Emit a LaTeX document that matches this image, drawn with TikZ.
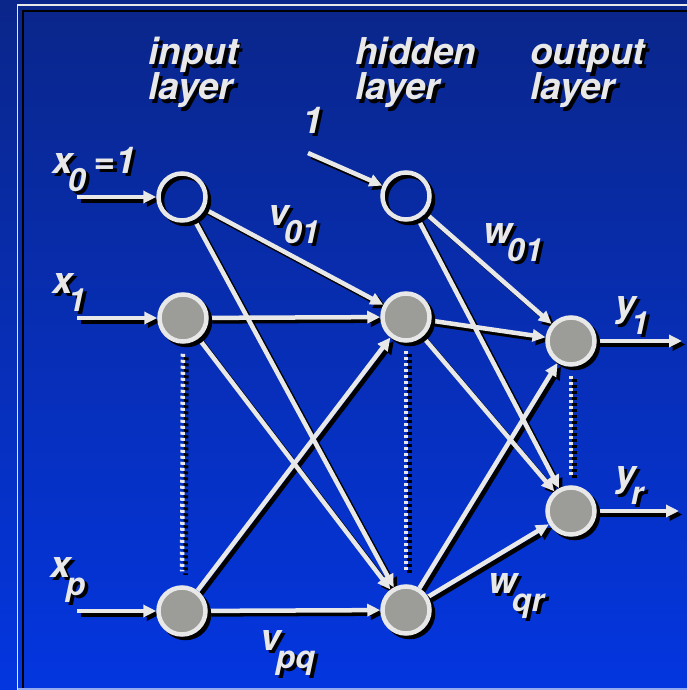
\documentclass[tikz,border=0pt]{standalone}
\usepackage{fontspec}
\setmainfont{TeX Gyre Heros}
\usetikzlibrary{arrows.meta}
\definecolor{claro}{RGB}{232,232,232}
\definecolor{gris}{RGB}{156,157,153}
\definecolor{azularriba}{RGB}{10,38,138}
\definecolor{azulabajo}{RGB}{4,54,224}
\definecolor{azulborde}{RGB}{150,170,240}
\newcommand{\sub}[1]{\kern-5pt\raisebox{-18pt}{\fontsize{32}{32}\selectfont #1}}
\pgfdeclarelayer{fondo}
\pgfdeclarelayer{lineas}
\pgfsetlayers{fondo,lineas,main}

\begin{document}
\begin{tikzpicture}[
    x=1pt,
    y=-1pt,
    neurona/.style={circle, draw=claro, fill=gris, line width=4.5pt,
        minimum size=47pt, inner sep=0pt,
        preaction={draw=black, fill=black, transform canvas={xshift=3.5pt, yshift=-3.5pt}}},
    sesgo/.style={circle, draw=claro, line width=4.5pt,
        minimum size=47pt, inner sep=0pt,
        preaction={draw=black, transform canvas={xshift=3.5pt, yshift=-3.5pt}}},
    conexion/.style={draw=claro, line width=4.5pt, -{Triangle[length=13pt, width=12pt]}},
    sombralinea/.style={conexion, draw=black, transform canvas={xshift=3.5pt, yshift=-3.5pt}},
    punteada/.style={draw=claro, line width=4.5pt, dash pattern=on 3pt off 3pt},
    sombrapunteada/.style={punteada, draw=black, transform canvas={xshift=3.5pt, yshift=-3.5pt}},
    etiqueta/.style={text=claro, inner sep=0pt, anchor=base west,
        font=\fontsize{37}{37}\selectfont\bfseries\itshape},
    sombra/.style={etiqueta, text=black}
]
\useasboundingbox (0,0) rectangle (687,690);

% Fondo y marco
\begin{pgfonlayer}{fondo}
\shade[top color=azularriba, bottom color=azulabajo] (0,0) rectangle (687,690);
\draw[claro, line width=1.5pt] (17.5,690) -- (17.5,5) -- (687,5);
\draw[black, line width=2pt] (23,690) -- (23,11) -- (687,11);
\draw[azulborde, line width=1.5pt] (17.5,689) -- (687,689);
\end{pgfonlayer}

% Capa de entrada
\node[sesgo] (i0) at (182,197) {};
\node[neurona] (i1) at (183,318) {};
\node[neurona] (ip) at (182,611) {};
% Capa oculta
\node[sesgo] (h0) at (406,196) {};
\node[neurona] (h1) at (406,317) {};
\node[neurona] (hq) at (406,610) {};
% Capa de salida
\node[neurona] (o1) at (571,341) {};
\node[neurona] (or) at (571,511) {};

% Extremos libres
\coordinate (e0) at (77,197);
\coordinate (e1) at (77,318);
\coordinate (ep) at (77,611);
\coordinate (b1) at (308,153);
\coordinate (s1) at (682,341);
\coordinate (sr) at (679,511);

% Conexiones
\def\conexiones{e0/i0, e1/i1, ep/ip, b1/h0,
    i0/h1, i0/hq, i1/h1, i1/hq, ip/h1, ip/hq,
    h0/o1, h0/or, h1/o1, h1/or, hq/o1, hq/or,
    o1/s1, or/sr}
\begin{pgfonlayer}{lineas}
\foreach \a/\b in \conexiones
    \draw[sombralinea] (\a) -- (\b);
\foreach \a/\b/\ini/\fin in {i1/ip/10/14, h1/hq/8/12, o1/or/9/9}
    \draw[sombrapunteada, shorten <=\ini pt, shorten >=\fin pt] (\a) -- (\b);
\foreach \a/\b in \conexiones
    \draw[conexion] (\a) -- (\b);
\foreach \a/\b/\ini/\fin in {i1/ip/10/14, h1/hq/8/12, o1/or/9/9}
    \draw[punteada, shorten <=\ini pt, shorten >=\fin pt] (\a) -- (\b);
\end{pgfonlayer}

% Textos
\foreach \nom/\px/\py/\txt in {
    ent1/148/65/input,
    ent2/148/100/layer,
    ocu1/355/65/hidden,
    ocu2/355/100/layer,
    sal1/530/65/output,
    sal2/530/100/layer,
    uno/302/133/1,
    x0/52/173/{x\sub{0}\hspace{8pt}=1},
    x1/52/293/{x\sub{1}},
    xp/50/577/{x\sub{p}},
    v01/268/225/{v\sub{01}},
    w01/483/243/{w\sub{01}},
    y1/615/316/{y\sub{1}},
    yr/615/486/{y\sub{r}},
    wqr/488/593/{w\sub{qr}},
    vpq/260/650/{v\sub{pq}}}
{
    \node[sombra] (s-\nom) at (\px+3.5,\py+3.5) {\txt};
    \node[etiqueta] (\nom) at (\px,\py) {\txt};
}

\end{tikzpicture}
\end{document}
